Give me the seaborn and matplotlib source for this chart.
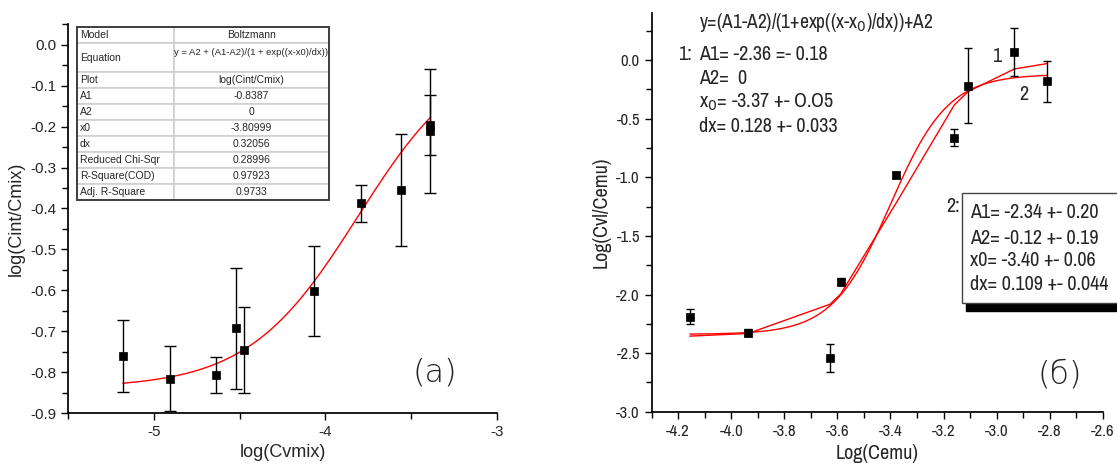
import numpy as np
import matplotlib
matplotlib.use('Agg')
import matplotlib.pyplot as plt
import seaborn as sns
from matplotlib.patches import Rectangle
from matplotlib.ticker import MultipleLocator, FormatStrFormatter

# panel (a): log(Cint/Cmix) vs log(Cvmix)
a_x = [-5.18, -4.907, -4.638, -4.52, -4.473, -4.067, -3.795, -3.558, -3.392, -3.392]
a_y = [-0.760, -0.816, -0.808, -0.693, -0.746, -0.603, -0.387, -0.356, -0.196, -0.211]
a_err = [0.088, 0.079, 0.044, 0.148, 0.105, 0.110, 0.045, 0.137, 0.073, 0.152]
a_fit = dict(A1=-0.8387, A2=0.0, x0=-3.80999, dx=0.32056)

table_rows = ['Model', 'Equation', 'Plot', 'A1', 'A2', 'x0', 'dx',
              'Reduced Chi-Sqr', 'R-Square(COD)', 'Adj. R-Square']
table_vals = ['Boltzmann', 'y = A2 + (A1-A2)/(1 + exp((x-x0)/dx))', 'log(Cint/Cmix)',
              '-0.8387', '0', '-3.80999', '0.32056', '0.28996', '0.97923', '0.9733']

# panel (б): Log(Cvl/Cemu) vs Log(Cemu)
b_x = [-4.156, -3.936, -3.628, -3.588, -3.378, -3.159, -3.107, -2.933, -2.809]
b_y = [-2.188, -2.325, -2.544, -1.890, -0.980, -0.662, -0.220, 0.067, -0.182]
b_err = [0.065, 0.033, 0.120, 0.030, 0.025, 0.074, 0.320, 0.206, 0.176]
b_fit1 = [-2.355, -2.332, -2.083, -1.997, -1.217, -0.381, -0.268, -0.075, -0.029]
b_fit2 = dict(A1=-2.34, A2=-0.12, x0=-3.40, dx=0.109)


def boltzmann(x, A1, A2, x0, dx):
    return A2 + (A1 - A2) / (1 + np.exp((x - x0) / dx))


sns.set_theme(style='ticks')
plt.rcParams['font.family'] = ['Liberation Sans', 'DejaVu Sans']
plt.rcParams['axes.unicode_minus'] = False
narrow = ['Archivo Narrow', 'DejaVu Sans']

W, H = 1117, 475
fig = plt.figure(figsize=(W / 100, H / 100), dpi=100)


def ftext(px, py, s, **kw):
    fig.text(px / W, 1 - py / H, s, **kw)


# ---------------- panel (a)
ax1 = fig.add_axes([68 / W, 1 - 413 / H, 429 / W, 388.7 / H])
xs = np.linspace(min(a_x), max(a_x), 200)
sns.lineplot(x=xs, y=boltzmann(xs, **a_fit), ax=ax1, color='red', lw=1, sort=False)
ax1.errorbar(a_x, a_y, yerr=a_err, fmt='none', ecolor='black', elinewidth=1,
             capsize=4, capthick=1)
sns.scatterplot(x=a_x, y=a_y, ax=ax1, marker='s', s=40, color='black',
                edgecolor='black', linewidth=0.5, zorder=5)
ax1.set_xlim(-5.5, -3)
ax1.set_ylim(-0.9, 0.05)
ax1.xaxis.set_major_locator(MultipleLocator(1))
ax1.xaxis.set_minor_locator(MultipleLocator(0.5))
ax1.yaxis.set_major_locator(MultipleLocator(0.1))
ax1.yaxis.set_minor_locator(MultipleLocator(0.05))
ax1.yaxis.set_major_formatter(FormatStrFormatter('%.1f'))
ax1.xaxis.set_major_formatter(FormatStrFormatter('%d'))
ax1.tick_params(which='major', length=5, width=1, labelsize=11, color='black')
ax1.tick_params(which='minor', length=4, width=1, color='black')
ax1.set_xlabel('log(Cvmix)', fontsize=13)
ax1.set_ylabel('log(Cint/Cmix)', fontsize=13)
sns.despine(ax=ax1)
for s in ['left', 'bottom']:
    ax1.spines[s].set_color('black')
ftext(435, 373, '(a)', fontsize=23, family='DejaVu Sans', fontweight='light',
      ha='center', va='center')

cells = [[r, v] for r, v in zip(table_rows, table_vals)]
cells[1][1] = cells[1][1] + '\n '
tbl = ax1.table(cellText=cells, colWidths=[97, 155],
                bbox=[0.021, 0.548, 0.587, 0.445], cellLoc='center')
tbl.auto_set_font_size(False)
for (r, c), cell in tbl.get_celld().items():
    cell.set_edgecolor('#d0d0d0')
    cell.set_linewidth(1.2)
    cell.get_text().set_fontsize(6.8 if (r, c) == (1, 1) else 7.5)
    cell.set_height(29 if r == 1 else 16)
    if c == 0:
        cell.get_text().set_ha('left')
        cell.PAD = 0.03
ax1.add_patch(Rectangle((0.021, 0.548), 0.587, 0.445, transform=ax1.transAxes,
                        fill=False, edgecolor='#333333', lw=1.3, zorder=10))

# ---------------- panel (б)
ax2 = fig.add_axes([651.7 / W, 1 - 411.7 / H, 451 / W, 398.4 / H])
xs2 = np.linspace(min(b_x), max(b_x), 200)
sns.lineplot(x=b_x, y=b_fit1, ax=ax2, color='red', lw=1, sort=False)
sns.lineplot(x=xs2, y=boltzmann(xs2, **b_fit2), ax=ax2, color='red', lw=1, sort=False)
ax2.errorbar(b_x, b_y, yerr=b_err, fmt='none', ecolor='black', elinewidth=1,
             capsize=3, capthick=1)
sns.scatterplot(x=b_x, y=b_y, ax=ax2, marker='s', s=36, color='black',
                edgecolor='black', linewidth=0.5, zorder=5)
ax2.set_xlim(-4.3, -2.6)
ax2.set_ylim(-3.0, 0.4)
ax2.xaxis.set_major_locator(MultipleLocator(0.2))
ax2.xaxis.set_minor_locator(MultipleLocator(0.1))
ax2.yaxis.set_major_locator(MultipleLocator(0.5))
ax2.yaxis.set_minor_locator(MultipleLocator(0.25))
ax2.xaxis.set_major_formatter(FormatStrFormatter('%.1f'))
ax2.yaxis.set_major_formatter(FormatStrFormatter('%.1f'))
ax2.tick_params(which='major', length=5, width=1, labelsize=12, color='black')
ax2.tick_params(which='minor', length=4, width=1, color='black')
for lab in ax2.get_xticklabels() + ax2.get_yticklabels():
    lab.set_family(narrow)
ax2.set_xlabel('Log(Cemu)', fontsize=14.5, family=narrow)
ax2.set_ylabel('Log(Cvl/Cemu)', fontsize=14.5, family=narrow)
sns.despine(ax=ax2)
for s in ['left', 'bottom']:
    ax2.spines[s].set_color('black')
ftext(1060, 375, '(б)', fontsize=23, family='DejaVu Sans', fontweight='light',
      ha='center', va='center')

kw = dict(family=narrow, fontsize=14.5, va='center', ha='left')
ftext(699, 23, 'y=(A1-A2)/(1+exp((x-x$_0$)/dx))+A2', fontsize=14, family=narrow,
      va='center', ha='left')
ftext(678, 55, '1:', **kw)
ftext(699, 55, 'A1= -2.36 =- 0.18', **kw)
ftext(699, 79, 'A2=  0', **kw)
ftext(699, 102, 'x$_0$= -3.37 +- O.O5', **kw)
ftext(699, 127, 'dx= 0.128 +- 0.033', **kw)
ftext(992, 57, '1', **kw)
ftext(1019, 95, '2', **kw)

fig.patches.append(Rectangle((965.7 / W, 1 - 311 / H), 160 / W, 110 / H,
                             transform=fig.transFigure, facecolor='black',
                             edgecolor='black', zorder=8))
fig.patches.append(Rectangle((961.7 / W, 1 - 303.3 / H), 165 / W, 110 / H,
                             transform=fig.transFigure, facecolor='white',
                             edgecolor='#444444', lw=1, zorder=9))
ftext(946, 207, '2:', zorder=11, **kw)
ftext(970, 213, 'A1= -2.34 +- 0.20', zorder=11, **kw)
ftext(970, 238, 'A2= -0.12 +- 0.19', zorder=11, **kw)
ftext(970, 260, 'x0= -3.40 +- 0.06', zorder=11, **kw)
ftext(970, 284, 'dx= 0.109 +- 0.044', zorder=11, **kw)

fig.savefig('out.png', dpi=100, facecolor='white')
